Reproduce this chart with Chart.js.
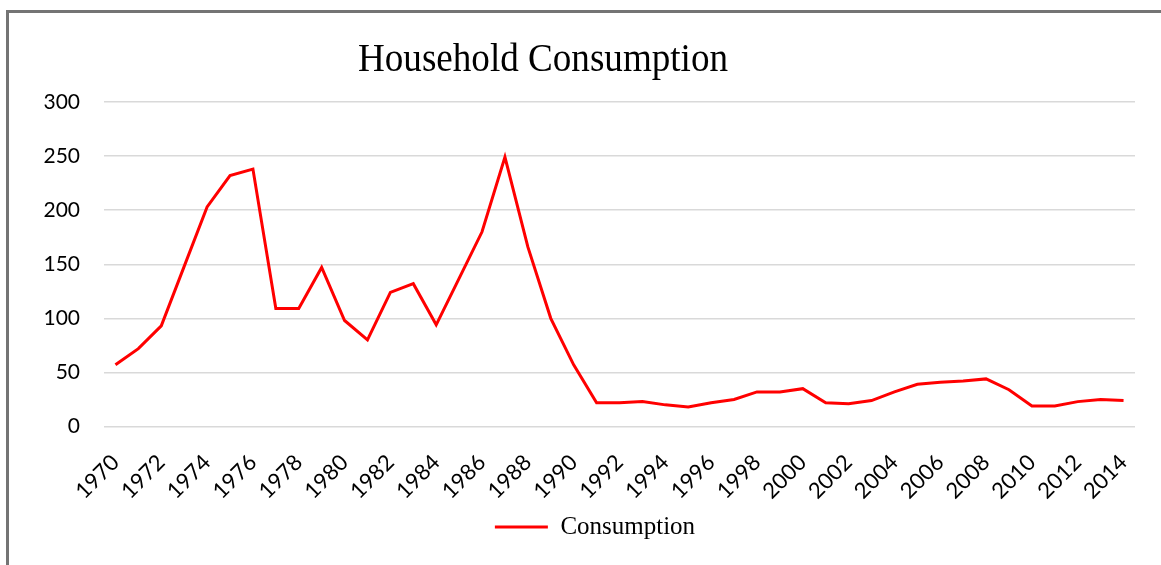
<!DOCTYPE html>
<html>
<head>
<meta charset="utf-8">
<script src="https://cdn.jsdelivr.net/npm/chart.js@4/dist/chart.umd.min.js"></script>
<style>
  html, body { margin: 0; padding: 0; background: #ffffff; overflow: hidden; width: 1161px; height: 565px; }
  #frame { position: absolute; left: 6px; top: 10px; width: 1200px; height: 600px;
           border-left: 3px solid #747474; border-top: 3px solid #747474; box-sizing: border-box; }
  #c { position: absolute; left: 0; top: 0; }
</style>
</head>
<body>
<div id="frame"></div>
<canvas id="c" width="1190" height="580"></canvas>
<script>
const chartTitle = "Household Consumption";
const seriesName = "Consumption";
const years = [
  "1970","1971","1972","1973","1974","1975","1976","1977","1978","1979",
  "1980","1981","1982","1983","1984","1985","1986","1987","1988","1989",
  "1990","1991","1992","1993","1994","1995","1996","1997","1998","1999",
  "2000","2001","2002","2003","2004","2005","2006","2007","2008","2009",
  "2010","2011","2012","2013","2014"
];
const consumption = [
  57, 72, 93, 148, 203, 232, 238, 109, 109, 147,
  98, 80, 124, 132, 94, 137, 180, 249, 166, 100,
  57, 22, 22, 23, 20, 18, 22, 25, 32, 32,
  35, 22, 21, 24, 32, 39, 41, 42, 44, 34,
  19, 19, 23, 25, 24
];
const yTicks = [0, 50, 100, 150, 200, 250, 300];

const titlePlugin = {
  id: 'condensedTitle',
  afterDraw(chart) {
    const ctx = chart.ctx;
    ctx.save();
    ctx.font = '41px "Liberation Serif", "Times New Roman", serif';
    ctx.fillStyle = '#000000';
    ctx.textAlign = 'center';
    ctx.textBaseline = 'alphabetic';
    ctx.translate(543, 70.7);
    ctx.scale(0.905, 1);
    ctx.fillText(chartTitle, 0, 0);
    ctx.restore();
  }
};

new Chart(document.getElementById('c'), {
  type: 'line',
  data: {
    labels: years,
    datasets: [{
      label: seriesName,
      data: consumption,
      borderColor: '#ff0000',
      backgroundColor: '#ff0000',
      borderWidth: 3,
      pointRadius: 0,
      pointHoverRadius: 0,
      tension: 0,
      fill: false
    }]
  },
  options: {
    responsive: false,
    animation: false,
    devicePixelRatio: 1,
    layout: { padding: { left: 0, right: 0, top: 102, bottom: 30.5 } },
    plugins: {
      title: { display: false },
      tooltip: { enabled: false },
      legend: {
        display: true,
        position: 'bottom',
        labels: {
          usePointStyle: true,
          pointStyle: 'line',
          pointStyleWidth: 53,
          padding: 10,
          color: '#000000',
          font: { family: '"Liberation Serif", "Times New Roman", serif', size: 25 }
        }
      }
    },
    scales: {
      x: {
        type: 'category',
        offset: true,
        grid: { display: false, drawTicks: false },
        border: { display: false },
        afterFit(scale) { scale.height = 78; },
        ticks: {
          autoSkip: false,
          minRotation: 45,
          maxRotation: 45,
          padding: 23,
          color: '#000000',
          font: { family: 'Lato, "Open Sans", sans-serif', size: 22 },
          callback(value, index) { return index % 2 === 0 ? years[index] : ''; }
        }
      },
      y: {
        position: 'left',
        min: 0,
        max: 300,
        afterFit(scale) { scale.width = 104; },
        afterBuildTicks(scale) { scale.ticks = yTicks.map(v => ({ value: v })); },
        grid: { color: '#d9d9d9', lineWidth: 1.5, drawTicks: false },
        border: { display: false },
        ticks: {
          padding: 24,
          color: '#000000',
          font: { family: 'Lato, "Open Sans", sans-serif', size: 21 }
        }
      },
      yRightSpace: {
        position: 'right',
        min: 0,
        max: 300,
        afterFit(scale) { scale.width = 55; },
        grid: { display: false, drawTicks: false },
        border: { display: false },
        ticks: { display: false }
      }
    }
  },
  plugins: [titlePlugin]
});
</script>
</body>
</html>
